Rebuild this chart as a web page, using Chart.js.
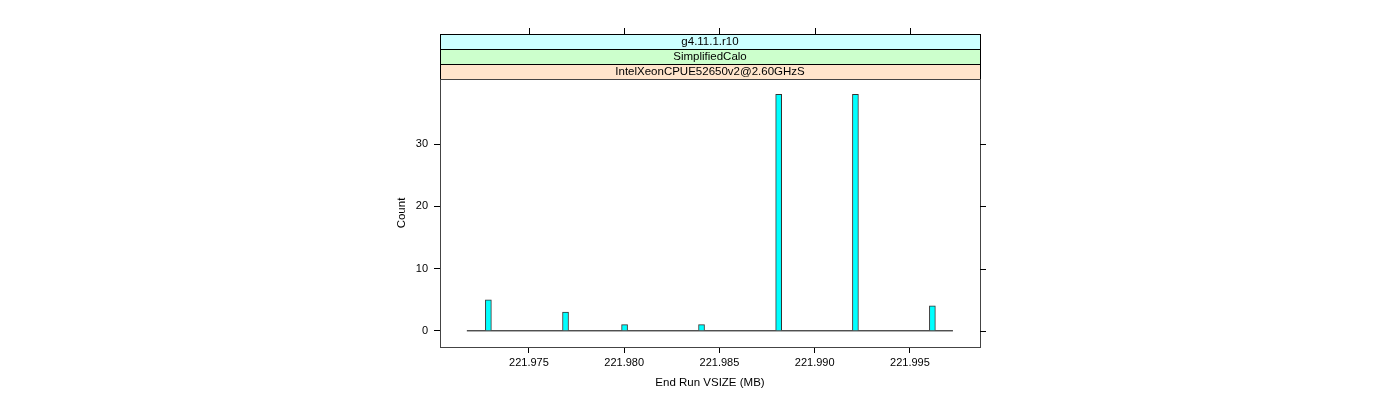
<!DOCTYPE html>
<html>
<head>
<meta charset="utf-8">
<script src="https://cdn.jsdelivr.net/npm/chart.js@4/dist/chart.umd.min.js"></script>
<style>
html,body{margin:0;padding:0;background:#fff;}
canvas{display:block;}
</style>
</head>
<body>
<canvas id="c" width="1400" height="400"></canvas>
<script>
// ---- data ----
const binCenters = [221.97287, 221.97692, 221.98002, 221.98406, 221.98811, 221.99214, 221.99618];
const counts = [5, 3, 1, 1, 38, 38, 4];
const baselineRange = [221.97174, 221.99726];
const xTicks = [221.975, 221.980, 221.985, 221.990, 221.995];
const yTicks = [0, 10, 20, 30];
const stripLabels = ["g4.11.1.r10", "SimplifiedCalo", "IntelXeonCPUE52650v2@2.60GHzS"];
const stripColors = ["#ccffff", "#ccffcc", "#ffe5cc"];
const xTitle = "End Run VSIZE (MB)";
const yTitle = "Count";

const FONT = "'Liberation Sans', Arial, Helvetica, sans-serif";

const latticePlugin = {
  id: 'lattice',
  afterDraw(chart) {
    const ctx = chart.ctx;
    const a = chart.chartArea;
    const xs = chart.scales.x, ys = chart.scales.y;
    ctx.save();
    // strips
    const sh = 15;
    const n = stripLabels.length;
    for (let i = 0; i < n; i++) {
      const top = a.top - (n - i) * sh;
      ctx.fillStyle = stripColors[i];
      ctx.fillRect(a.left, top, a.right - a.left, sh);
      ctx.strokeStyle = '#000';
      ctx.lineWidth = 1;
      ctx.strokeRect(Math.round(a.left) + 0.5, Math.round(top) + 0.5, Math.round(a.right - a.left), sh);
      ctx.fillStyle = '#000';
      ctx.font = '11.5px ' + FONT;
      ctx.textAlign = 'center';
      ctx.textBaseline = 'middle';
      ctx.fillText(stripLabels[i], (a.left + a.right) / 2, top + sh / 2 + 0.5);
    }
    // panel box
    ctx.strokeStyle = '#444';
    ctx.lineWidth = 1;
    ctx.strokeRect(Math.round(a.left) + 0.5, Math.round(a.top) + 0.5, Math.round(a.right - a.left), Math.round(a.bottom - a.top));
    // top ticks (above strips)
    ctx.strokeStyle = '#000';
    const stripTop = a.top - n * sh;
    xs.ticks.forEach(t => {
      const px = Math.round(xs.getPixelForValue(t.value)) + 0.5;
      ctx.beginPath();
      ctx.moveTo(px, stripTop);
      ctx.lineTo(px, stripTop - 6);
      ctx.stroke();
    });
    // right ticks
    ys.ticks.forEach(t => {
      const py = Math.round(ys.getPixelForValue(t.value)) + 0.5;
      ctx.beginPath();
      ctx.moveTo(a.right, py);
      ctx.lineTo(a.right + 6, py);
      ctx.stroke();
    });
    ctx.restore();
  }
};

new Chart(document.getElementById('c'), {
  type: 'bar',
  data: {
    datasets: [
      {
        type: 'line',
        data: baselineRange.map(v => ({x: v, y: 0})),
        borderColor: '#000',
        borderWidth: 1,
        pointRadius: 0,
        order: 2
      },
      {
        type: 'bar',
        data: binCenters.map((v, i) => ({x: v, y: counts[i]})),
        backgroundColor: '#00ffff',
        borderColor: '#333',
        borderWidth: 1,
        barThickness: 6,
        order: 1
      }
    ]
  },
  options: {
    responsive: false,
    animation: false,
    layout: { padding: { left: 391, right: 420, top: 79, bottom: 6 } },
    plugins: { legend: { display: false }, tooltip: { enabled: false } },
    scales: {
      x: {
        type: 'linear',
        offset: false,
        min: 221.97033,
        max: 221.99868,
        afterBuildTicks(s) { s.ticks = xTicks.map(v => ({value: v})); },
        afterFit(s) { s.height = 47; },
        grid: { offset: false, drawOnChartArea: false, drawTicks: true, tickLength: 6, tickColor: '#000' },
        border: { display: false },
        ticks: { color: '#000', font: { family: FONT, size: 11 }, padding: 3, maxRotation: 0, autoSkip: false,
                 callback: v => Number(v).toFixed(3) },
        title: { display: true, text: xTitle, color: '#000', font: { family: FONT, size: 11.5 }, padding: { top: 4, bottom: 4 } }
      },
      y: {
        type: 'linear',
        min: -2.6,
        max: 40.48,
        afterBuildTicks(s) { s.ticks = yTicks.map(v => ({value: v})); },
        afterFit(s) { s.width = 49; },
        grid: { drawOnChartArea: false, drawTicks: true, tickLength: 6, tickColor: '#000' },
        border: { display: false },
        ticks: { color: '#000', font: { family: FONT, size: 11 }, padding: 6, autoSkip: false },
        title: { display: true, text: yTitle, color: '#000', font: { family: FONT, size: 11.5 }, padding: { top: 4, bottom: 4 } }
      }
    }
  },
  plugins: [latticePlugin]
});
</script>
</body>
</html>
